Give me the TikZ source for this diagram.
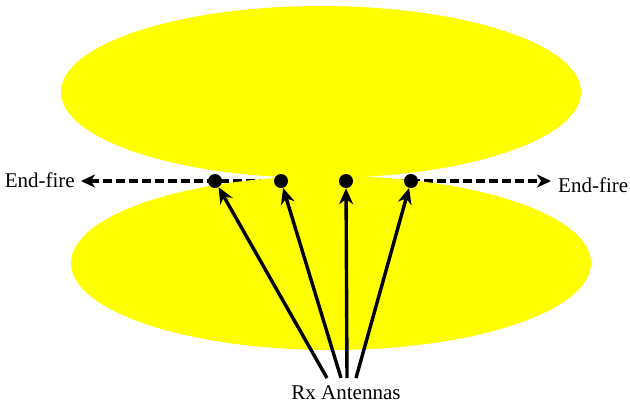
\documentclass[tikz,border=0pt]{standalone}
\usepackage{fontspec}
\setmainfont{Liberation Serif}
\newfontfamily\lblfont{Liberation Serif}
\usetikzlibrary{arrows.meta}
\definecolor{lobe}{RGB}{255,255,0}
\tikzset{
  lobefill/.style={fill=lobe,draw=none},
  dot/.style={circle,fill=black,inner sep=0pt,minimum size=14pt},
  endfire/.style={-{Stealth[length=14pt,width=13pt,inset=4pt]},line width=3.6pt,dash pattern=on 9pt off 4pt},
  rxarrow/.style={-{Stealth[length=16pt,width=14pt,inset=5pt]},line width=3.4pt},
  lbl/.style={font=\lblfont\fontsize{21}{25}\selectfont,inner sep=0pt}
}
\begin{document}
\begin{tikzpicture}[x=1pt,y=-1pt]
\useasboundingbox (0,0) rectangle (630,405);
% antenna positions
\coordinate (p1) at (215,181);
\coordinate (p2) at (281,181);
\coordinate (p3) at (346,181);
\coordinate (p4) at (411,181);
\node[lbl,anchor=east] (efL) at (75,180) {End-fire};
\node[lbl,anchor=west] (efR) at (558,185) {End-fire};
\node[lbl] (rx) at (346,393) {Rx Antennas};
\coordinate (a1) at (327,378);
\coordinate (a2) at (341,378);
\coordinate (a3) at (347,378);
\coordinate (a4) at (356,378);
\coordinate (tL) at (81,181);
\coordinate (tR) at (551,181);
% end-fire dashed arrows (behind the lobes)
\draw[endfire] (p2) -- (tL);
\draw[endfire] (p3) -- (tR);
% lobes
\fill[lobefill] (321,92) ellipse [x radius=260, y radius=86];
\fill[lobefill] (331,263) ellipse [x radius=260, y radius=87];
% antennas
\node[dot] (d1) at (p1) {};
\node[dot] (d2) at (p2) {};
\node[dot] (d3) at (p3) {};
\node[dot] (d4) at (p4) {};
\draw[rxarrow] (a1) -- (d1);
\draw[rxarrow] (a2) -- (d2);
\draw[rxarrow] (a3) -- (d3);
\draw[rxarrow] (a4) -- (d4);
\end{tikzpicture}
\end{document}
